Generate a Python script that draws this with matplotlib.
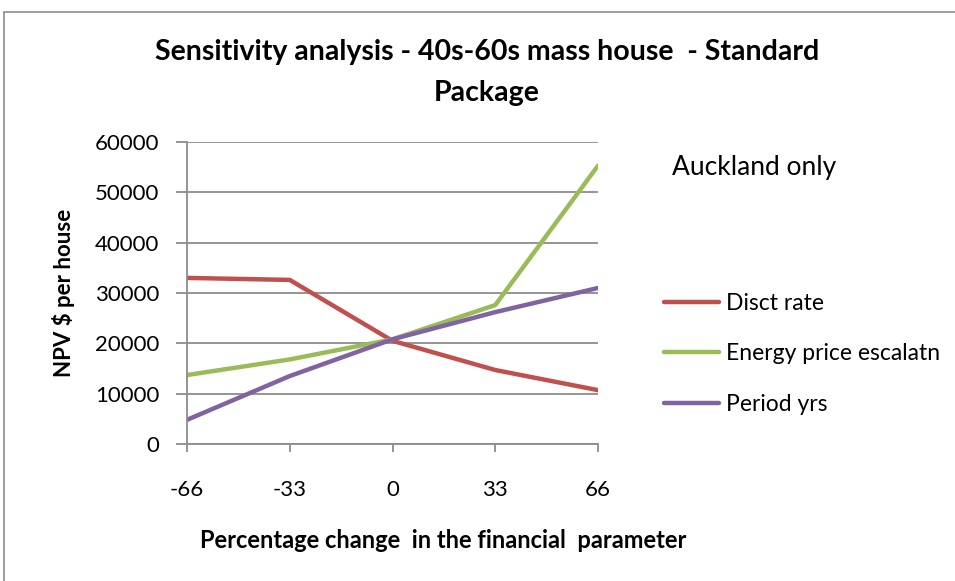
import matplotlib.pyplot as plt
from matplotlib.patches import Rectangle

pct_change = [-66, -33, 0, 33, 66]
disct_rate = [33000, 32600, 20500, 14700, 10700]
energy_price = [13700, 16800, 20800, 27600, 55300]
period_yrs = [4800, 13500, 20800, 26200, 31000]
series_names = ['Disct rate', 'Energy price escalatn', 'Period yrs']
y_ticks = [0, 10000, 20000, 30000, 40000, 50000, 60000]


def main():
    plt.rcParams['font.family'] = ['Lato', 'DejaVu Sans']
    plt.rcParams['axes.unicode_minus'] = False
    fig = plt.figure(figsize=(9.55, 5.81), dpi=100)
    fig.patches.append(Rectangle((4 / 955, -0.1), 1.2, (581 - 12) / 581 + 0.1,
                                 transform=fig.transFigure, fill=False,
                                 edgecolor='#8c8c8c', linewidth=1.2))

    ax = fig.add_axes([187 / 955, 1 - 444 / 581, 411 / 955, 302 / 581])
    colors = ['#C0504D', '#9BBB59', '#8064A2']
    for vals, name, c in zip([disct_rate, energy_price, period_yrs], series_names, colors):
        ax.plot(pct_change, vals, color=c, linewidth=3.2, label=name, solid_capstyle='round')

    ax.set_xlim(-66, 66)
    ax.set_ylim(0, 60000)
    ax.set_xticks(pct_change)
    ax.set_yticks(y_ticks)
    ax.grid(axis='y', color='#8c8c8c', linewidth=1.3)
    ax.set_axisbelow(True)
    for s in ['top', 'right']:
        ax.spines[s].set_visible(False)
    for s in ['left', 'bottom']:
        ax.spines[s].set_color('#8c8c8c')
        ax.spines[s].set_linewidth(1.3)
    ax.tick_params(axis='y', length=8, width=1.3, color='#8c8c8c', labelsize=16, pad=12)
    ax.tick_params(axis='x', length=6, width=1.3, color='#8c8c8c', labelsize=16, pad=20)

    ax.set_ylabel('NPV $ per house', fontsize=16, fontweight='bold', labelpad=14)
    fig.text(443 / 955, 1 - 540 / 581, 'Percentage change  in the financial  parameter',
             ha='center', va='center', fontsize=17, fontweight='bold')
    fig.text(487 / 955, 1 - 52 / 581, 'Sensitivity analysis - 40s-60s mass house  - Standard',
             ha='center', va='center', fontsize=20.5, fontweight='bold')
    fig.text(487 / 955, 1 - 93 / 581, 'Package', ha='center', va='center',
             fontsize=20.5, fontweight='bold')
    fig.text(672 / 955, 1 - 168 / 581, 'Auckland only', ha='left', va='center', fontsize=19)

    ax.legend(loc='upper left', bbox_to_anchor=(643 / 955, 1 - 272 / 581),
              bbox_transform=fig.transFigure, frameon=False, fontsize=16.5,
              handlelength=2.4, handletextpad=0.3, labelspacing=1.3)

    fig.savefig('out.png', dpi=100)


if __name__ == '__main__':
    main()
